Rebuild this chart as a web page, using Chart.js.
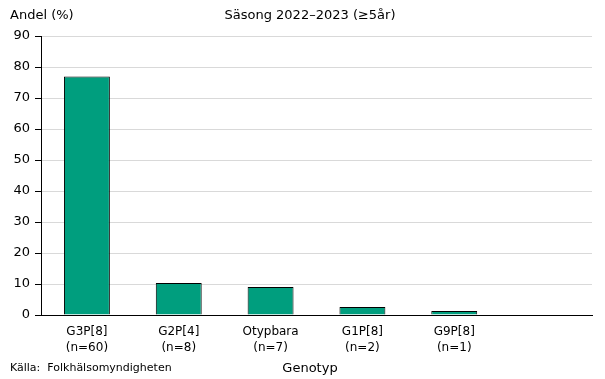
<!DOCTYPE html>
<html>
<head>
<meta charset="utf-8">
<script src="https://cdn.jsdelivr.net/npm/chart.js@4"></script>
<style>
  body { margin: 0; background: #fff; }
  #wrap { width: 605px; height: 379px; }
</style>
</head>
<body>
<div id="wrap"><canvas id="genotypChart" width="605" height="379"></canvas></div>
<script>
// Genotypes (last slot is empty in the original)
const categories = [['G3P[8]', '(n=60)'], ['G2P[4]', '(n=8)'], ['Otypbara', '(n=7)'], ['G1P[8]', '(n=2)'], ['G9P[8]', '(n=1)'], ''];
// Share of samples in percent
const shareValues = [76.9, 10.3, 9.0, 2.6, 1.3, null];
const yTicks = [0, 10, 20, 30, 40, 50, 60, 70, 80, 90];

const fontFamily = 'Tahoma, "DejaVu Sans", Verdana, sans-serif';

// Draws the header, source and axis titles at fixed spots
const textPlugin = {
    id: 'texts',
    afterDraw(chart) {
        const c = chart.ctx;
        c.save();
        c.fillStyle = '#000';
        c.textBaseline = 'alphabetic';
        c.font = '13px ' + fontFamily;
        c.textAlign = 'left';
        c.fillText('Andel (%)', 10, 19);
        c.textAlign = 'center';
        c.fillText('Säsong 2022–2023 (≥5år)', 310, 19);
        c.fillText('Genotyp', 310, 372);
        c.font = '11px ' + fontFamily;
        c.textAlign = 'left';
        c.fillText('Källa:  Folkhälsomyndigheten', 10, 371);
        c.restore();
    }
};

const ctx = document.getElementById('genotypChart').getContext('2d');

const genotypChart = new Chart(ctx, {
    type: 'bar',
    data: {
        labels: categories,
        datasets: [{
            data: shareValues,
            backgroundColor: '#009E7E',
            borderColor: '#000',
            borderWidth: 1,
            borderSkipped: 'bottom',
            barPercentage: 0.5,
            categoryPercentage: 1
        }]
    },
    options: {
        responsive: false,
        animation: false,
        devicePixelRatio: 1,
        layout: { padding: { top: 36, right: 13, left: 0, bottom: 0 } },
        scales: {
            x: {
                grid: { display: false, drawTicks: false },
                border: { color: '#000', width: 1 },
                ticks: {
                    color: '#000',
                    padding: 9,
                    maxRotation: 0,
                    autoSkip: false,
                    font: { family: fontFamily, size: 12, lineHeight: 1.35 }
                },
                afterFit(axis) { axis.height = 64; }
            },
            y: {
                min: 0,
                max: 90,
                afterBuildTicks(axis) { axis.ticks = yTicks.map(v => ({ value: v })); },
                grid: { color: '#d9d9d9', tickColor: '#000', tickLength: 6, lineWidth: 1 },
                border: { color: '#000', width: 1 },
                ticks: {
                    color: '#000',
                    padding: 5,
                    font: { family: fontFamily, size: 13 }
                },
                afterFit(axis) { axis.width = 41; }
            }
        },
        plugins: {
            legend: { display: false },
            title: { display: false },
            tooltip: { enabled: false }
        }
    },
    plugins: [textPlugin]
});
</script>
</body>
</html>
